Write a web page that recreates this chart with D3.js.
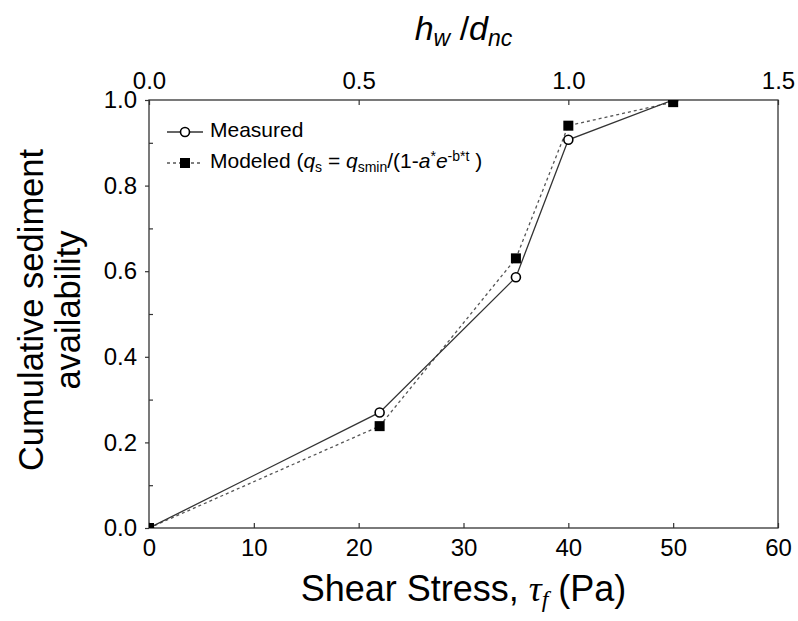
<!DOCTYPE html>
<html>
<head>
<meta charset="utf-8">
<script src="https://cdn.jsdelivr.net/npm/d3@7/dist/d3.min.js"></script>
<style>
  html, body { margin: 0; padding: 0; background: #fff; }
  svg { display: block; }
  text { font-family: "Liberation Sans", Arial, sans-serif; fill: #000; }
</style>
</head>
<body>
<svg id="chart" width="798" height="621"></svg>
<script>
// Shear stress (Pa) at each measurement step
const shearStress = [0, 22, 35, 40, 50];
// Cumulative sediment availability, measured
const measured = [0, 0.27, 0.586, 0.907, 1.0];
// Cumulative sediment availability, modeled
const modeled = [0, 0.238, 0.630, 0.940, 0.995];

const bottomTicks = [0, 10, 20, 30, 40, 50, 60];
const topTicks = [0, 0.5, 1.0, 1.5];
const yMajorTicks = [0, 0.2, 0.4, 0.6, 0.8, 1.0];
const yMinorTicks = [0.1, 0.3, 0.5, 0.7, 0.9];

const margin = { left: 149, right: 20, top: 100, bottom: 93 };
const W = 798, H = 621;
const plotW = W - margin.left - margin.right;
const plotH = H - margin.top - margin.bottom;

const svg = d3.select("#chart");
const g = svg.append("g").attr("transform", `translate(${margin.left},${margin.top})`);

const x = d3.scaleLinear().domain([0, 60]).range([0, plotW]);
const xTop = d3.scaleLinear().domain([0, 1.5]).range([0, plotW]);
const y = d3.scaleLinear().domain([0, 1]).range([plotH, 0]);

const axisColor = "#333";
const tickFont = "24px";

// clip region for the data marks
svg.append("defs").append("clipPath").attr("id", "plotClip")
  .append("rect").attr("x", 0).attr("y", 0).attr("width", plotW).attr("height", plotH);

// Bottom axis: ticks point into the plot
const bottomAxis = d3.axisBottom(x).tickValues(bottomTicks).tickSizeInner(-5).tickSizeOuter(0)
  .tickPadding(11).tickFormat(d3.format("d"));
const gb = g.append("g").attr("transform", `translate(0,${plotH})`).call(bottomAxis);

// Top axis (h_w / d_nc)
const topAxis = d3.axisTop(xTop).tickValues(topTicks).tickSizeInner(-5).tickSizeOuter(0)
  .tickPadding(11).tickFormat(d3.format(".1f"));
const gt = g.append("g").call(topAxis);

// Left axis: major ticks outward, minor ticks inward
const leftAxis = d3.axisLeft(y).tickValues(yMajorTicks).tickSizeInner(4).tickSizeOuter(0)
  .tickPadding(8).tickFormat(d3.format(".1f"));
const gl = g.append("g").call(leftAxis);
const leftMinor = d3.axisLeft(y).tickValues(yMinorTicks).tickSizeInner(-4).tickSizeOuter(0)
  .tickFormat(() => "");
const glm = g.append("g").call(leftMinor);

[gb, gt, gl, glm].forEach(a => {
  a.select(".domain").remove();
  a.selectAll("line").attr("stroke", axisColor).attr("stroke-width", 1.2);
  a.selectAll("text").style("font-size", tickFont)
    .style("font-family", "'Liberation Sans', Arial, sans-serif").attr("fill", "#000");
});

// frame
g.append("rect").attr("x", 0).attr("y", 0).attr("width", plotW).attr("height", plotH)
  .attr("fill", "none").attr("stroke", axisColor).attr("stroke-width", 1.3);

const plot = g.append("g").attr("clip-path", "url(#plotClip)");

const line = d3.line().x(d => x(d[0])).y(d => y(d[1]));
const measPts = shearStress.map((s, i) => [s, measured[i]]);
const modPts = shearStress.map((s, i) => [s, modeled[i]]);

plot.append("path").datum(modPts).attr("d", line).attr("fill", "none")
  .attr("stroke", "#555").attr("stroke-width", 1.3).attr("stroke-dasharray", "3,3");
plot.append("path").datum(measPts).attr("d", line).attr("fill", "none")
  .attr("stroke", "#333").attr("stroke-width", 1.3);

plot.selectAll("circle.meas").data(measPts).enter().append("circle")
  .attr("class", "meas").attr("cx", d => x(d[0])).attr("cy", d => y(d[1])).attr("r", 4.5)
  .attr("fill", "#fff").attr("stroke", "#000").attr("stroke-width", 1.6);

const sq = 10;
plot.selectAll("rect.mod").data(modPts).enter().append("rect")
  .attr("class", "mod").attr("x", d => x(d[0]) - sq / 2).attr("y", d => y(d[1]) - sq / 2)
  .attr("width", sq).attr("height", sq).attr("fill", "#000");

// Legend
const leg = g.append("g");
const legX0 = 18, legX1 = 54, legMid = 36, legText = 61;
const row1 = 32, row2 = 63;
const legFont = "21px", legSmall = "14px";
leg.append("line").attr("x1", legX0).attr("x2", legX1).attr("y1", row1).attr("y2", row1)
  .attr("stroke", "#333").attr("stroke-width", 1.3);
leg.append("circle").attr("cx", legMid).attr("cy", row1).attr("r", 4.5)
  .attr("fill", "#fff").attr("stroke", "#000").attr("stroke-width", 1.6);
leg.append("text").attr("x", legText).attr("y", row1 + 5).style("font-size", legFont).text("Measured");

leg.append("line").attr("x1", legX0).attr("x2", legX1).attr("y1", row2).attr("y2", row2)
  .attr("stroke", "#555").attr("stroke-width", 1.3).attr("stroke-dasharray", "3,3");
leg.append("rect").attr("x", legMid - sq / 2).attr("y", row2 - sq / 2).attr("width", sq).attr("height", sq)
  .attr("fill", "#000");
const t2 = leg.append("text").attr("x", legText).attr("y", row2 + 5).style("font-size", legFont);
t2.append("tspan").text("Modeled (");
t2.append("tspan").attr("font-style", "italic").text("q");
t2.append("tspan").attr("dy", 4).style("font-size", legSmall).text("s");
t2.append("tspan").attr("dy", -4).text(" = ");
t2.append("tspan").attr("font-style", "italic").text("q");
t2.append("tspan").attr("dy", 4).style("font-size", legSmall).text("smin");
t2.append("tspan").attr("dy", -4).text("/(1-");
t2.append("tspan").attr("font-style", "italic").text("a");
t2.append("tspan").attr("dy", -7).style("font-size", legSmall).text("*");
t2.append("tspan").attr("dy", 7).attr("font-style", "italic").text("e");
t2.append("tspan").attr("dy", -7).style("font-size", legSmall).text("-b*t");
t2.append("tspan").attr("dy", 7).text(" )");

// X axis title
const serif = "'Liberation Serif', 'Times New Roman', serif";
const xt = svg.append("text").attr("x", margin.left + plotW / 2).attr("y", 601)
  .attr("text-anchor", "middle").style("font-size", "36px");
xt.append("tspan").text("Shear Stress, ");
xt.append("tspan").style("font-family", serif).attr("font-style", "italic").text("τ");
xt.append("tspan").attr("dy", 6).style("font-family", serif)
  .attr("font-style", "italic").style("font-size", "24px").text("f");
xt.append("tspan").attr("dy", -6).text(" (Pa)");

// Top title
const tt = svg.append("text").attr("x", margin.left + plotW / 2).attr("y", 40)
  .attr("text-anchor", "middle").style("font-size", "34px");
tt.append("tspan").attr("font-style", "italic").text("h");
tt.append("tspan").attr("dy", 6).attr("font-style", "italic").style("font-size", "23px").text("w");
tt.append("tspan").attr("dy", -6).text(" /");
tt.append("tspan").attr("font-style", "italic").text("d");
tt.append("tspan").attr("dy", 6).attr("font-style", "italic").style("font-size", "23px").text("nc");

// Y axis title (two lines)
const yt = svg.append("text").attr("transform", `translate(0,${margin.top + plotH / 2 - 4}) rotate(-90)`)
  .attr("text-anchor", "middle").style("font-size", "34.5px");
yt.append("tspan").attr("x", 0).attr("y", 43).text("Cumulative sediment");
yt.append("tspan").attr("x", 0).attr("y", 80).text("availability");
</script>
</body>
</html>
